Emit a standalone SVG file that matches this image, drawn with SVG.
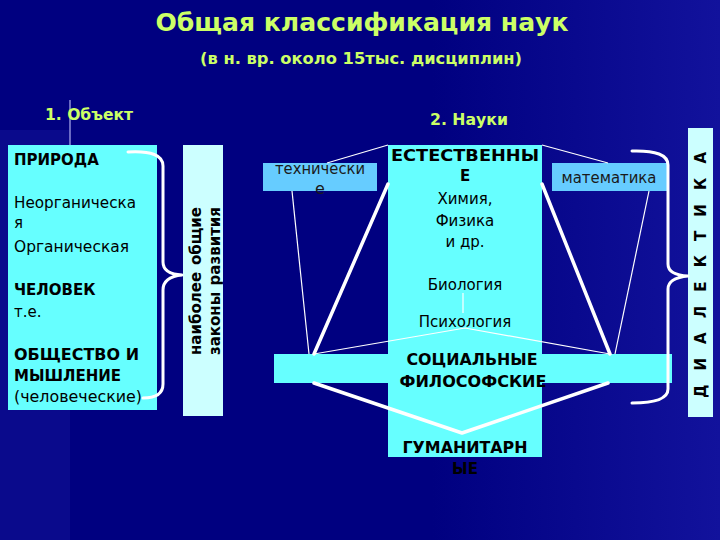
<svg xmlns="http://www.w3.org/2000/svg" width="720" height="540" viewBox="0 0 720 540">
<defs>
<linearGradient id="bg" x1="0" y1="0" x2="1" y2="0">
<stop offset="0" stop-color="#000080"/>
<stop offset="0.6" stop-color="#000080"/>
<stop offset="1" stop-color="#12129c"/>
</linearGradient>
<style>
.t{font-family:"DejaVu Sans","Liberation Sans",sans-serif;}
.h{fill:#ccff66;font-weight:bold;}
.b{fill:#000;font-size:15px;}
.bb{fill:#000;font-size:15px;font-weight:bold;}
.c{fill:#66ffff;}
.l{fill:#ccffff;}
.m{fill:#66ccff;}
.thick{stroke:#fff;stroke-width:3.5;fill:none;stroke-linecap:round;stroke-linejoin:round;}
.thin{stroke:#fff;stroke-width:1.2;fill:none;}
.brace{stroke:#fff;stroke-width:3;fill:none;stroke-linecap:round;stroke-linejoin:round;}
</style>
</defs>
<rect width="720" height="540" fill="url(#bg)"/>
<rect x="0" y="130" width="70" height="410" fill="#0a0a8c"/>
<line x1="70" y1="100" x2="70" y2="145" stroke="#c8c8ff" stroke-width="1.5" opacity="0.7"/>

<g id="title">
<text class="t h" x="362" y="31" font-size="24" text-anchor="middle" textLength="413" lengthAdjust="spacingAndGlyphs">Общая классификация наук</text>
<text class="t h" x="361" y="64" font-size="15" text-anchor="middle" textLength="322" lengthAdjust="spacingAndGlyphs">(в н. вр. около 15тыс. дисциплин)</text>
</g>
<g id="label-object"><text class="t h" x="45" y="120" font-size="16" textLength="88" lengthAdjust="spacingAndGlyphs">1. Объект</text></g>
<g id="label-sciences"><text class="t h" x="430" y="125" font-size="16" textLength="78" lengthAdjust="spacingAndGlyphs">2. Науки</text></g>

<g id="priroda">
<rect class="c" x="8" y="145" width="149" height="265"/>
<text class="t bb" x="14" y="165">ПРИРОДА</text>
<text class="t b" x="14" y="208" textLength="122" lengthAdjust="spacingAndGlyphs">Неорганическа</text>
<text class="t b" x="14" y="228">я</text>
<text class="t b" x="14" y="252" textLength="115" lengthAdjust="spacingAndGlyphs">Органическая</text>
<text class="t bb" x="14" y="295">ЧЕЛОВЕК</text>
<text class="t b" x="14" y="317">т.е.</text>
<text class="t bb" x="14" y="360" textLength="125" lengthAdjust="spacingAndGlyphs">ОБЩЕСТВО И</text>
<text class="t bb" x="14" y="381">МЫШЛЕНИЕ</text>
<text class="t b" x="14" y="402" textLength="128" lengthAdjust="spacingAndGlyphs">(человеческие)</text>
</g>

<g id="zakony">
<rect class="l" x="183" y="145" width="40" height="271"/>
<text class="t bb" transform="translate(201,355) rotate(-90)">наиболее</text>
<text class="t bb" transform="translate(201,207) rotate(-90)" text-anchor="end">общие</text>
<text class="t bb" transform="translate(220,355) rotate(-90)">законы</text>
<text class="t bb" transform="translate(220,207) rotate(-90)" text-anchor="end">развития</text>
</g>

<g id="estestvennye">
<rect class="c" x="388" y="145" width="154" height="312"/>
</g>
<g id="socialnye">
<rect class="c" x="274" y="354" width="398" height="29"/>
</g>
<g id="tehnicheskie">
<rect class="m" x="263" y="163" width="114" height="28"/>
</g>
<g id="matematika">
<rect class="m" x="552" y="163" width="115" height="28"/>
<text class="t" x="609" y="183" font-size="15" fill="#1a1a1a" text-anchor="middle" textLength="95" lengthAdjust="spacingAndGlyphs">математика</text>
</g>
<g id="dialektika">
<rect class="l" x="688" y="128" width="25" height="289"/>
<text class="t bb" transform="translate(706,398) rotate(-90)" textLength="246" lengthAdjust="spacing">Д И А Л Е К Т И К А</text>
</g>

<g id="connectors">
<line class="thin" x1="327" y1="163" x2="388" y2="145"/>
<line class="thin" x1="292" y1="191" x2="309" y2="354"/>
<line class="thick" x1="314" y1="354" x2="388" y2="184"/>
<line class="thin" x1="542" y1="145" x2="608" y2="163"/>
<line class="thin" x1="649" y1="191" x2="615" y2="354"/>
<line class="thick" x1="542" y1="184" x2="610" y2="354"/>
<polyline class="thin" points="314,354 465,328 610,354"/>
<line class="thin" x1="463" y1="293" x2="463" y2="313"/>
<polyline class="thick" points="314,383 462,433 608,383"/>
<path class="brace" d="M128,152 Q163,150 163,166 L163,262 Q163,274 182,275 Q163,277 163,290 L163,384 Q163,398 143,398"/>
<path class="brace" d="M632,151 Q668,150 668,165 L668,264 Q668,275 688,276 Q668,278 668,289 L668,389 Q668,403 632,403"/>
</g>

<g id="labels-center">
<text class="t" x="320" y="174" font-size="16" fill="#1a1a1a" text-anchor="middle" textLength="90" lengthAdjust="spacingAndGlyphs">технически</text>
<text class="t" x="320" y="194" font-size="16" fill="#1a1a1a" text-anchor="middle">е</text>
<text class="t bb" x="465" y="161" text-anchor="middle" textLength="148" lengthAdjust="spacingAndGlyphs">ЕСТЕСТВЕННЫ</text>
<text class="t bb" x="465" y="181" text-anchor="middle">Е</text>
<text class="t b" x="465" y="204" text-anchor="middle">Химия,</text>
<text class="t b" x="465" y="226" text-anchor="middle">Физика</text>
<text class="t b" x="465" y="247" text-anchor="middle">и др.</text>
<text class="t b" x="465" y="290" text-anchor="middle">Биология</text>
<text class="t b" x="465" y="327" text-anchor="middle">Психология</text>
<text class="t bb" x="472" y="365" text-anchor="middle" textLength="131" lengthAdjust="spacingAndGlyphs">СОЦИАЛЬНЫЕ</text>
<text class="t bb" x="473" y="387" text-anchor="middle" textLength="147" lengthAdjust="spacingAndGlyphs">ФИЛОСОФСКИЕ</text>
<text class="t bb" x="465" y="453" text-anchor="middle" textLength="125" lengthAdjust="spacingAndGlyphs">ГУМАНИТАРН</text>
<text class="t bb" x="465" y="474" text-anchor="middle">ЫЕ</text>
</g>
</svg>
